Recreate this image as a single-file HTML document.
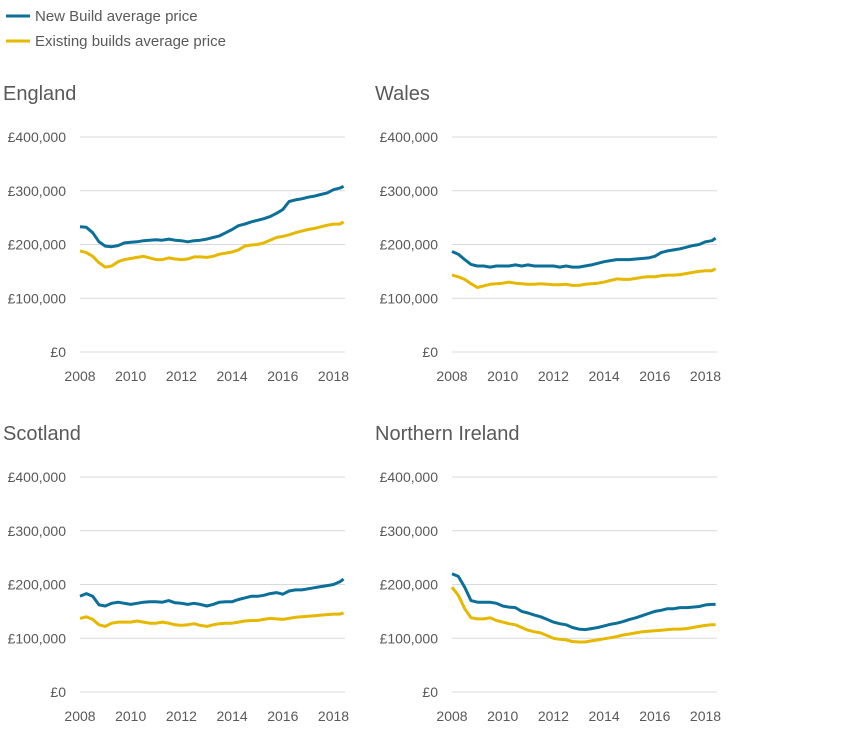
<!DOCTYPE html>
<html><head><meta charset="utf-8"><style>
body{margin:0;background:#fff;font-family:"Liberation Sans",sans-serif;}
svg text{font-family:"Liberation Sans",sans-serif;fill:#595959;}
</style></head><body>
<svg id="c" width="845" height="745">
<g>
<line x1="6" y1="16" x2="30" y2="16" stroke="#0b6f98" stroke-width="3"/>
<text x="35" y="21" font-size="15">New Build average price</text>
<line x1="6" y1="41" x2="30" y2="41" stroke="#e6b800" stroke-width="3"/>
<text x="35" y="46" font-size="15">Existing builds average price</text>
</g>
</svg>
<script>
const years=[2008,2008.25,2008.5,2008.75,2009,2009.25,2009.5,2009.75,2010,2010.25,2010.5,2010.75,2011,2011.25,2011.5,2011.75,2012,2012.25,2012.5,2012.75,2013,2013.25,2013.5,2013.75,2014,2014.25,2014.5,2014.75,2015,2015.25,2015.5,2015.75,2016,2016.25,2016.5,2016.75,2017,2017.25,2017.5,2017.75,2018,2018.25,2018.4];
const yTicks=[0,100000,200000,300000,400000];
const yTickLabels=["£0","£100,000","£200,000","£300,000","£400,000"];
const xTicks=[2008,2010,2012,2014,2016,2018];
const regions=["England","Wales","Scotland","Northern Ireland"];
const englandNew=[233,232,222,205,197,196,198,203,204,205,207,208,209,208,210,208,207,205,207,208,210,213,216,222,228,235,238,242,245,248,252,258,265,280,283,285,288,290,293,296,302,305,308];
const englandExisting=[188,185,178,166,158,160,168,172,174,176,178,175,172,172,175,173,172,173,177,177,176,178,182,184,186,190,197,199,200,203,208,213,215,218,222,225,228,230,233,236,238,238,242];
const walesNew=[187,182,172,163,160,160,158,160,160,160,162,160,162,160,160,160,160,158,160,158,158,160,162,165,168,170,172,172,172,173,174,175,178,185,188,190,192,195,198,200,205,207,212];
const walesExisting=[143,140,135,127,120,123,126,127,128,130,128,127,126,126,127,126,125,125,126,124,124,126,127,128,130,133,136,135,135,137,139,140,140,142,143,143,144,146,148,150,151,151,155];
const scotlandNew=[178,183,178,162,160,165,167,165,163,165,167,168,168,167,170,166,165,163,165,163,160,163,167,168,168,172,175,178,178,180,183,185,182,188,190,190,192,194,196,198,200,205,210];
const scotlandExisting=[137,140,135,125,122,128,130,130,130,132,130,128,128,130,128,125,124,125,127,124,122,125,127,128,128,130,132,133,133,135,137,136,135,137,139,140,141,142,143,144,145,145,147];
const niNew=[220,215,195,170,167,167,167,165,160,158,157,150,147,143,140,135,130,127,125,120,117,116,118,120,123,126,128,131,135,138,142,146,150,152,155,155,157,157,158,159,162,163,163];
const niExisting=[195,180,155,138,136,136,138,133,130,127,125,120,115,112,110,105,100,98,97,94,93,93,95,97,99,101,103,106,108,110,112,113,114,115,116,117,117,118,120,122,124,125,125];
const seriesNew=[englandNew,walesNew,scotlandNew,niNew];
const seriesExisting=[englandExisting,walesExisting,scotlandExisting,niExisting];
const NS="http://www.w3.org/2000/svg";
const svg=document.getElementById('c');
function mk(t,a,p){const e=document.createElementNS(NS,t);for(const k in a)e.setAttribute(k,a[k]);(p||svg).appendChild(e);return e;}
const panels=[{x0:80,y0:352,tx:3,ty:100},{x0:452,y0:352,tx:375,ty:100},{x0:80,y0:692,tx:3,ty:440},{x0:452,y0:692,tx:375,ty:440}];
const ids=["england","wales","scotland","northern-ireland"];
panels.forEach((p,i)=>{
  const g=mk('g',{});
  
  
  const xs=v=>p.x0+(v-2008)*25.35;
  const ys=v=>p.y0-v/100000*53.75;
  const t=mk('text',{x:p.tx,y:p.ty,'font-size':20,fill:'#404040'},g);
  
  
  t.textContent=regions[i];
  yTicks.forEach((v,k)=>{
    const l=mk('line',{x1:p.x0,x2:p.x0+265,y1:ys(v),y2:ys(v),stroke:'#d9d9d9','stroke-width':1},g);
    
    
    const tl=mk('text',{x:p.x0-14,y:ys(v)+5,'font-size':14,'text-anchor':'end'},g);
    
    
    tl.textContent=yTickLabels[k];
  });
  xTicks.forEach(v=>{
    const tl=mk('text',{x:xs(v),y:p.y0+29,'font-size':14,'text-anchor':'middle'},g);
    
    
    tl.textContent=v;
  });
  [[seriesExisting[i],'#e6b800','existing'],[seriesNew[i],'#0b6f98','new-build']].forEach(([d,c,n])=>{
    const pts=d.map((v,k)=>xs(years[k]).toFixed(1)+','+ys(v*1000).toFixed(1)).join(' ');
    const pl=mk('polyline',{points:pts,fill:'none',stroke:c,'stroke-width':3,'stroke-linejoin':'round'},g);
    
    
  });
});
</script>
</body></html>
